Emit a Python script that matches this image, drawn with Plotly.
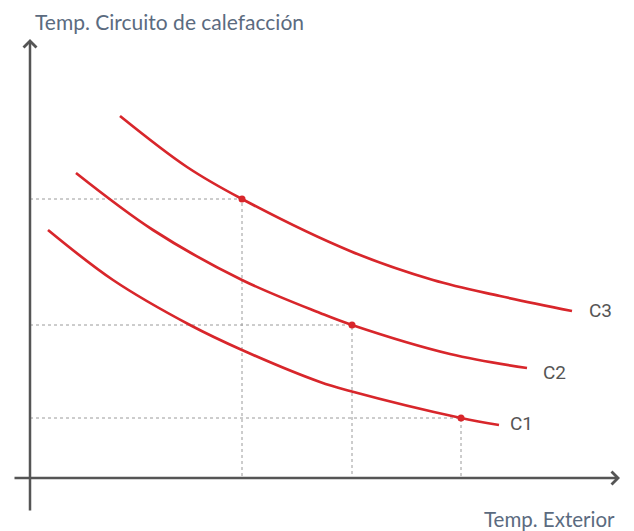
import plotly.graph_objects as go

# Curve data (chart units: origin at axes crossing)
c3_x = [90, 157, 212, 320, 403, 470, 542]
c3_y = [362, 311, 279, 227, 198, 182, 167]
c2_x = [46, 123, 212, 290, 322, 420, 497]
c2_y = [305, 248, 198, 165, 153, 124, 110]
c1_x = [18, 83, 160, 212, 290, 320, 431, 469]
c1_y = [248, 198, 153, 128, 96, 87, 60, 53]

# Marked operating points
pts_x = [212, 322, 431]
pts_y = [279, 153, 60]

labels = ["C3", "C2", "C1"]
label_x = [557, 511, 478]
label_y = [168, 106, 55]

RED = "#d8262b"
AXIS = "#555555"
GUIDE = "#9a9a9a"

fig = go.Figure()

# guide lines
for px, py in zip(pts_x, pts_y):
    fig.add_trace(go.Scatter(x=[0, px, px], y=[py, py, 0], mode="lines",
                             line=dict(color=GUIDE, width=1, dash="dot"),
                             hoverinfo="skip", showlegend=False))

for xs, ys in [(c3_x, c3_y), (c2_x, c2_y), (c1_x, c1_y)]:
    fig.add_trace(go.Scatter(x=xs, y=ys, mode="lines",
                             line=dict(color=RED, width=2.7, shape="spline", smoothing=1.0),
                             showlegend=False))

fig.add_trace(go.Scatter(x=pts_x, y=pts_y, mode="markers",
                         marker=dict(color=RED, size=7), showlegend=False))

annotations = []
# axes with arrows
annotations.append(dict(x=590, y=0, ax=-17, ay=0, xref="x", yref="y", axref="x", ayref="y",
                        showarrow=True, arrowhead=4, arrowsize=1, arrowwidth=2.5,
                        arrowcolor=AXIS, text=""))
annotations.append(dict(x=0, y=439, ax=0, ay=-34, xref="x", yref="y", axref="x", ayref="y",
                        showarrow=True, arrowhead=4, arrowsize=1, arrowwidth=2.5,
                        arrowcolor=AXIS, text=""))

annotations.append(dict(x=3, y=457, xref="x", yref="y", text="Temp. Circuito de calefacción",
                        showarrow=False, xanchor="left", yanchor="middle",
                        font=dict(family="Lato", size=21, color="#5b6b80")))
annotations.append(dict(x=587, y=-41, xref="x", yref="y", text="Temp. Exterior",
                        showarrow=False, xanchor="right", yanchor="middle",
                        font=dict(family="Lato", size=20.5, color="#5b6b80")))
for t, lx, ly in zip(labels, label_x, label_y):
    annotations.append(dict(x=lx, y=ly, xref="x", yref="y", text=t, showarrow=False,
                            xanchor="left", yanchor="middle",
                            font=dict(family="Roboto", size=19, color="#555555")))

# page body has an 8px margin: figure covers page pixels 8..634 / 8..531
fig.update_layout(
    width=626, height=523,
    margin=dict(l=0, r=0, t=0, b=0),
    paper_bgcolor="white", plot_bgcolor="white",
    xaxis=dict(range=[-22, 604], visible=False, fixedrange=True),
    yaxis=dict(range=[-53, 470], visible=False, fixedrange=True),
    annotations=annotations,
    showlegend=False,
)

fig.write_html("out.html")
